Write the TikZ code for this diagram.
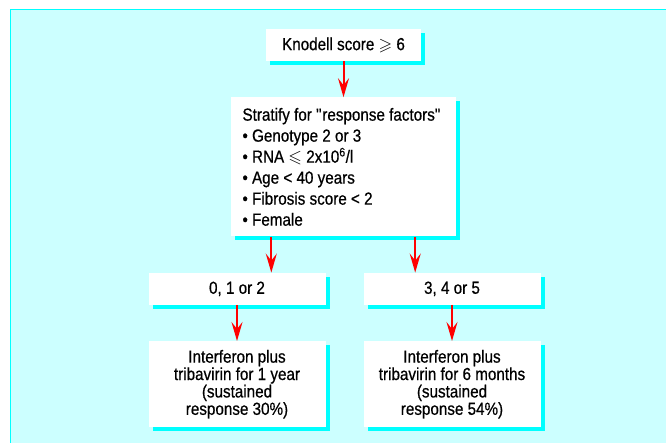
\documentclass[tikz,border=0pt]{standalone}
\usepackage{amssymb}
\usepackage{fontspec}
\setmainfont{Liberation Sans}[FakeStretch=0.87, FakeBold=0.6]
\usetikzlibrary{positioning,arrows.meta,shadows}

\definecolor{panelcyan}{RGB}{204,255,255}
\definecolor{edgecyan}{RGB}{0,255,255}

\tikzset{
	box/.style={fill=white, inner sep=0pt,
		drop shadow={shadow xshift=4pt, shadow yshift=-4pt, fill=edgecyan, opacity=1}},
	smallbox/.style={box, minimum width=177pt, minimum height=32pt,
		font=\fontsize{17.5}{21}\selectfont},
	listbox/.style={box, text width=202pt, inner xsep=11.5pt, minimum height=139pt,
		align=flush left, font=\fontsize{17.5}{21}\selectfont},
	resultbox/.style={box, minimum width=177pt, minimum height=86pt,
		align=center, font=\fontsize{17.5}{17.4}\selectfont},
	flow/.style={draw=red, line width=2pt, -{Stealth[length=19pt, width=11pt, inset=7pt]}},
}

\begin{document}
\begin{tikzpicture}[x=1pt, y=-1pt]
		\useasboundingbox (0,0) rectangle (666,443);
		\fill[panelcyan] (10,9) rectangle (666,443);
		\draw[edgecyan, line width=1.5pt] (10.5,443) -- (10.5,9.5) -- (666,9.5);

		\node [smallbox, minimum width=155pt] (knodell) at (343.5,45) {Knodell score $\geqslant$ 6};
		\node [listbox, below=36pt of knodell] (strat) {Stratify for \textquotedbl response factors\textquotedbl\\
			• Genotype 2 or 3\\
			• RNA $\leqslant$ 2x10\textsuperscript{\kern0pt 6}/l\\
			• Age < 40 years\\
			• Fibrosis score < 2\\
			• Female};
		\node [smallbox, below=36pt of strat, xshift=-106.5pt] (low) {0, 1 or 2};
		\node [smallbox, below=36pt of strat, xshift=108.5pt] (high) {3, 4 or 5};
		\node [resultbox, below=36pt of low] (year) {Interferon plus\\tribavirin for 1 year\\(sustained\\response 30\%)};
		\node [resultbox, below=36pt of high] (months) {Interferon plus\\tribavirin for 6 months\\(sustained\\response 54\%)};

		\draw [flow] (knodell) -- (strat);
		\draw [flow] ([xshift=40.5pt]strat.south west) -- ([xshift=40.5pt]strat.south west |- low.north);
		\draw [flow] ([xshift=-41pt]strat.south east) -- ([xshift=-41pt]strat.south east |- high.north);
		\draw [flow] (low) -- (year);
		\draw [flow] (high) -- (months);
	\end{tikzpicture}
\end{document}
